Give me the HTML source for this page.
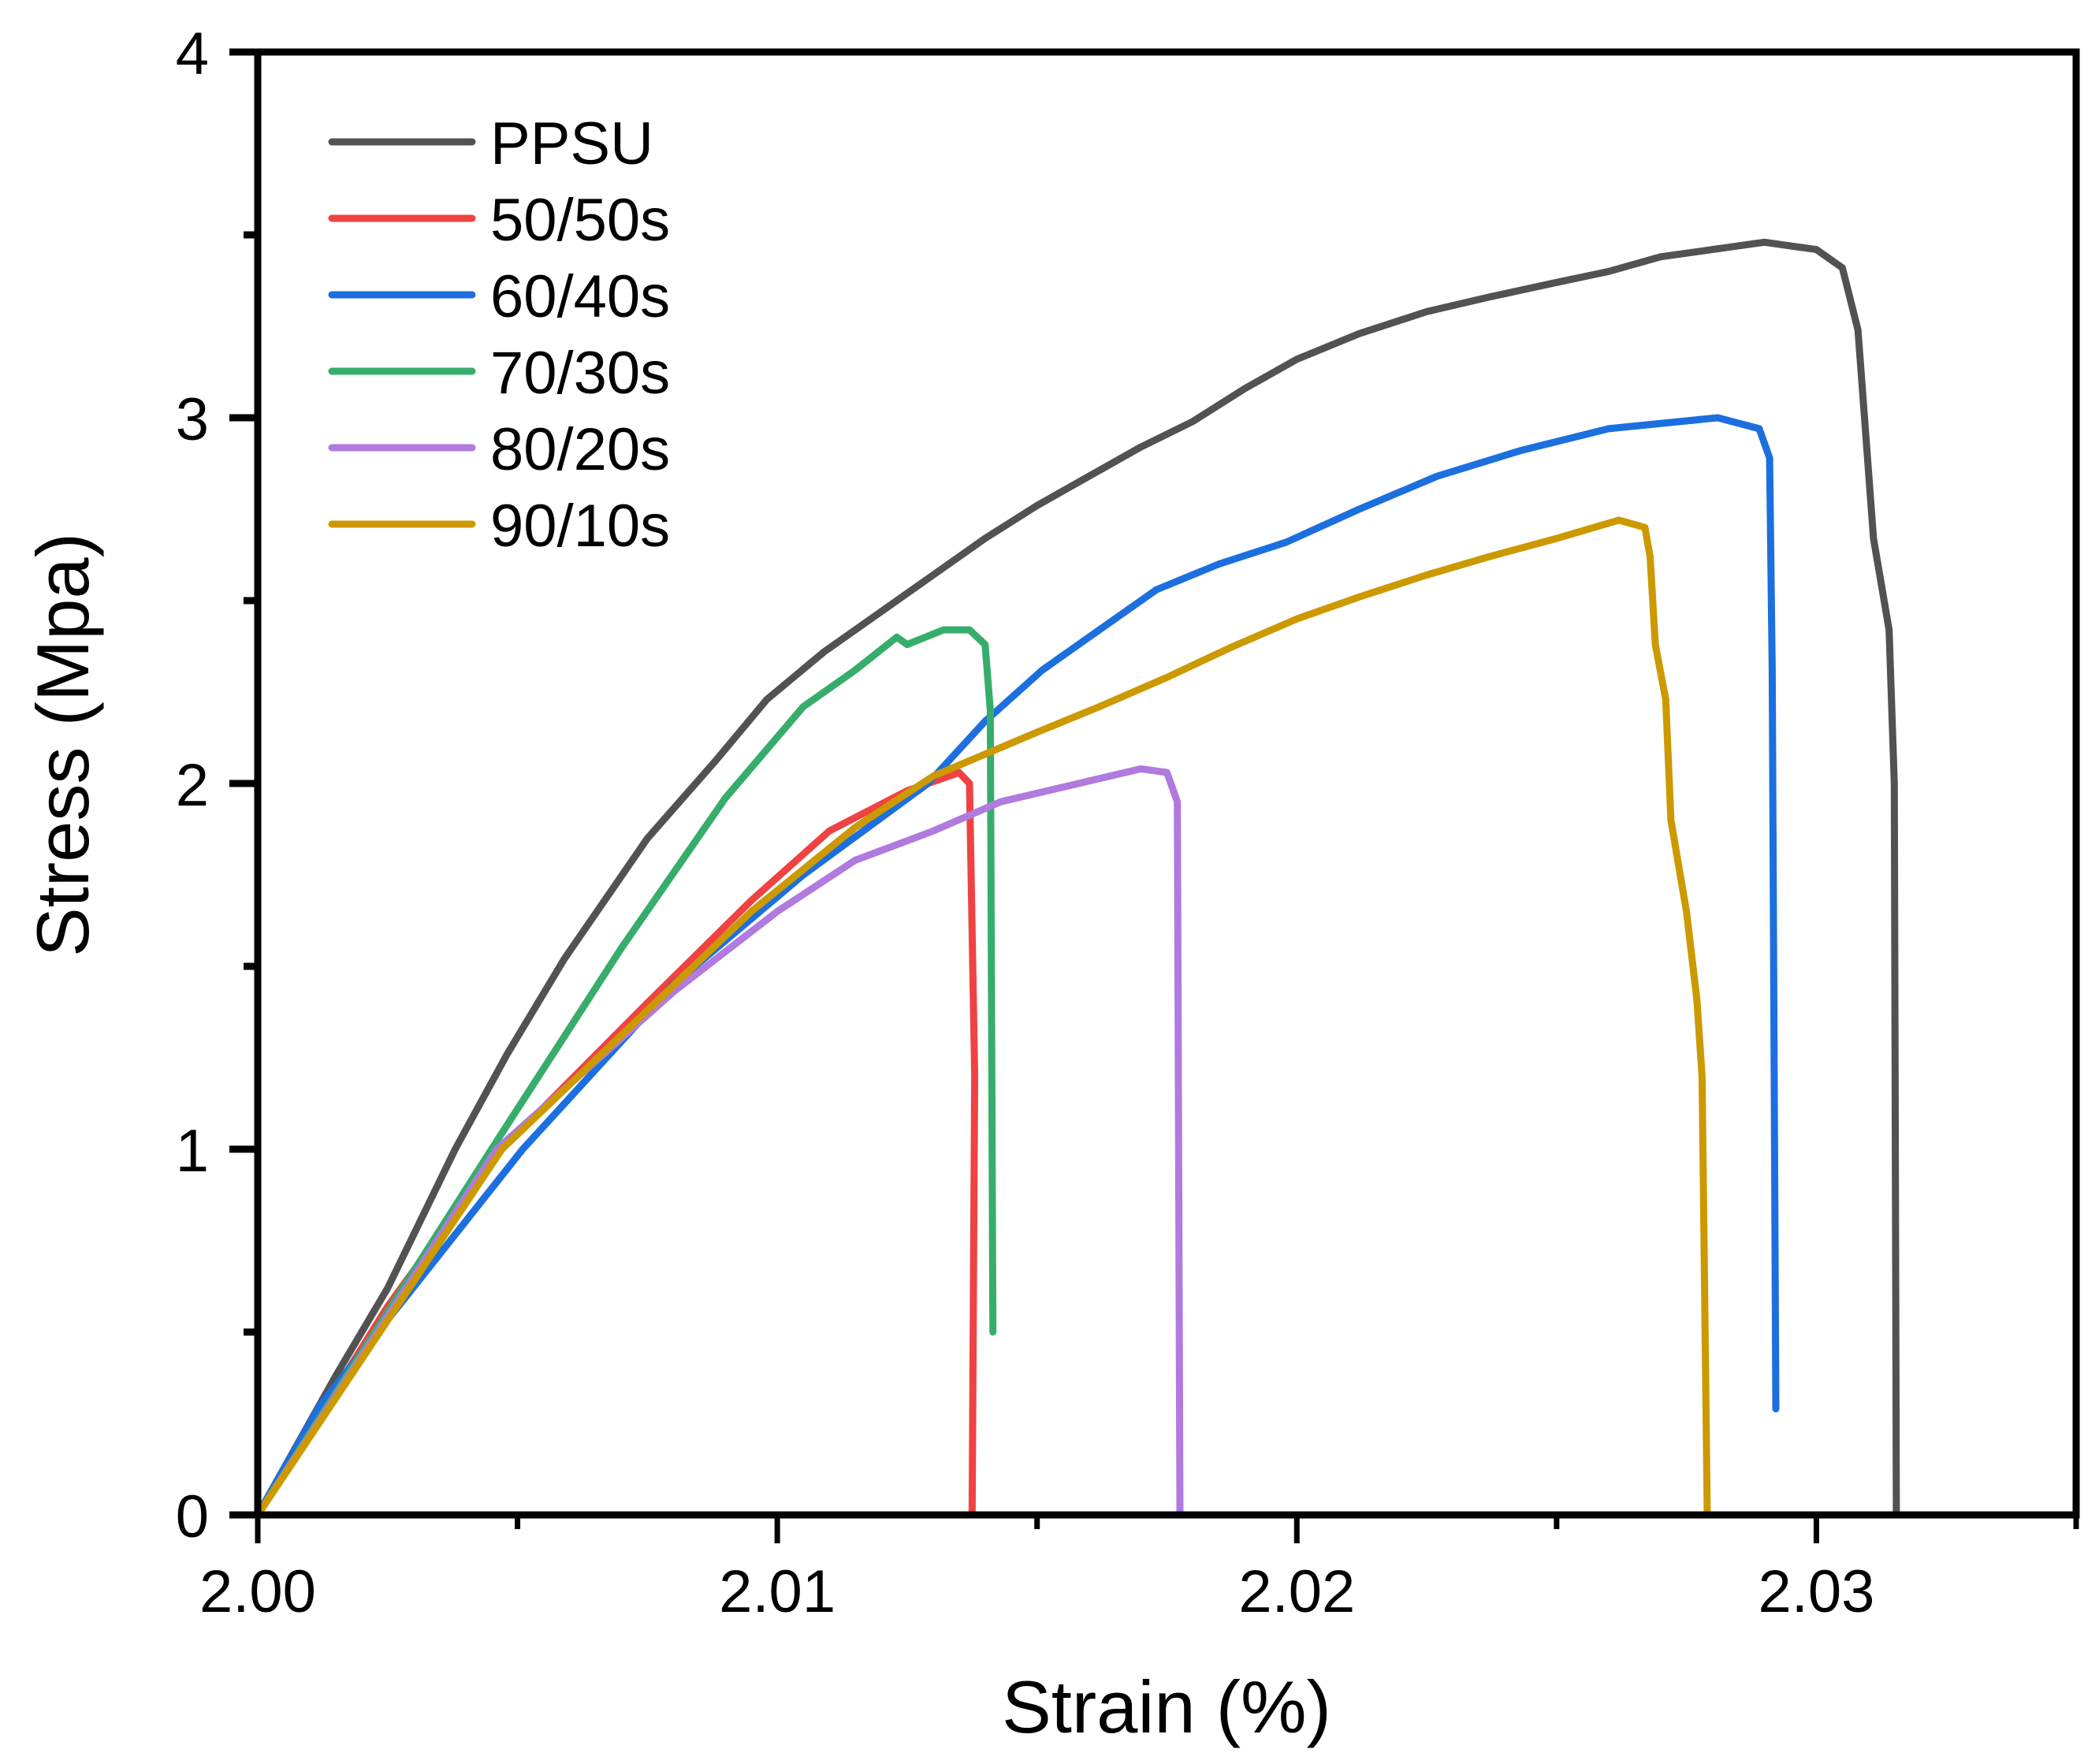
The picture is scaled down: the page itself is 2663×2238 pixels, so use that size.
<!DOCTYPE html>
<html><head><meta charset="utf-8"><style>
html,body{margin:0;padding:0;background:#fff;}
svg{display:block;font-family:"Liberation Sans",Arial,sans-serif;}
</style></head><body>
<svg id="chart" width="2663" height="2238" viewBox="0 0 2663 2238">
<g id="grid"></g>
<g id="series" fill="none" stroke-linejoin="round" stroke-linecap="round"></g>
<g id="axes"></g>
<g id="legend"></g>
<text x="1480" y="2198" font-size="94" text-anchor="middle">Strain (%)</text>
<text transform="translate(112,945) rotate(-90)" font-size="94" text-anchor="middle">Stress (Mpa)</text>
</svg>
<script>
const seriesNames = ["PPSU","50/50s","60/40s","70/30s","80/20s","90/10s"];
const seriesColors = ["#525252","#ef4242","#1c6fdf","#37ad6b","#b07ade","#cc9900"];
const xTicks = [2.00,2.01,2.02,2.03];
const xTickLabels = ["2.00","2.01","2.02","2.03"];
const xMinorTicks = [2.005,2.015,2.025,2.035];
const yTicks = [0,1,2,3,4];
const yTickLabels = ["0","1","2","3","4"];
const yMinorTicks = [0.5,1.5,2.5,3.5];
const ppsuX = [2.000,2.0015,2.0025,2.0038,2.0048,2.0059,2.0075,2.0088,2.0098,2.0109,2.0120,2.0130,2.0140,2.0150,2.0160,2.0170,2.0180,2.0190,2.0200,2.0212,2.0225,2.0237,2.0250,2.0260,2.0270,2.0280,2.0290,2.0300,2.0305,2.0308,2.0311,2.0314,2.0315,2.03154];
const ppsuY = [0,0.38,0.62,1.0,1.26,1.52,1.85,2.06,2.23,2.36,2.47,2.57,2.67,2.76,2.84,2.92,2.99,3.08,3.16,3.23,3.29,3.33,3.37,3.40,3.44,3.46,3.48,3.46,3.41,3.24,2.67,2.42,2.0,0];
const s5050X = [2.000,2.0025,2.0047,2.0075,2.0095,2.0110,2.0125,2.0135,2.0137,2.0138,2.01375];
const s5050Y = [0,0.57,1.0,1.40,1.68,1.87,1.98,2.03,2.0,1.2,0];
const s6040X = [2.000,2.0012,2.0051,2.0080,2.0105,2.0129,2.0140,2.0151,2.0162,2.0173,2.0185,2.0198,2.0212,2.0227,2.0243,2.0260,2.0281,2.0289,2.0291,2.02915,2.02922];
const s6040Y = [0,0.30,1.0,1.45,1.75,2.0,2.17,2.31,2.42,2.53,2.60,2.66,2.75,2.84,2.91,2.97,3.0,2.97,2.89,2.31,0.29];
const s7030X = [2.000,2.0045,2.0070,2.0090,2.0105,2.0115,2.0123,2.0125,2.0132,2.0137,2.0140,2.0141,2.01415];
const s7030Y = [0,1.0,1.55,1.96,2.21,2.31,2.40,2.38,2.42,2.42,2.38,2.2,0.5];
const s8020X = [2.000,2.0046,2.0080,2.0100,2.0115,2.0130,2.0143,2.0155,2.0170,2.0175,2.0177,2.01775];
const s8020Y = [0,1.0,1.43,1.65,1.79,1.87,1.95,1.99,2.04,2.03,1.95,0];
const s9010X = [2.000,2.0047,2.0075,2.0095,2.0115,2.0130,2.0150,2.0162,2.0175,2.0187,2.0200,2.0212,2.0225,2.0237,2.0250,2.0262,2.0267,2.0268,2.0269,2.0271,2.0272,2.0275,2.0277,2.0278,2.0279];
const s9010Y = [0,1.0,1.38,1.65,1.88,2.02,2.14,2.21,2.29,2.37,2.45,2.51,2.57,2.62,2.67,2.72,2.70,2.62,2.38,2.23,1.90,1.65,1.41,1.2,0];

const NS="http://www.w3.org/2000/svg";
const L=327,R=2634,T=66,B=1922;
const xMin=2.0,xMax=2.035,yMin=0,yMax=4;
const sx=v=>L+(v-xMin)/(xMax-xMin)*(R-L);
const sy=v=>B-(v-yMin)/(yMax-yMin)*(B-T);
function mk(tag,attrs,parent){const e=document.createElementNS(NS,tag);for(const k in attrs)e.setAttribute(k,attrs[k]);parent.appendChild(e);return e;}

const sg=document.getElementById('series');
const allX=[ppsuX,s5050X,s6040X,s7030X,s8020X,s9010X];
const allY=[ppsuY,s5050Y,s6040Y,s7030Y,s8020Y,s9010Y];
allX.forEach((xs,i)=>{
  const d=xs.map((x,j)=>(j?'L':'M')+sx(x).toFixed(1)+' '+sy(allY[i][j]).toFixed(1)).join(' ');
  const p=mk('path',{d:d,stroke:seriesColors[i],'stroke-width':9},sg);
  
  
});

const ag=document.getElementById('axes');
const frame=mk('rect',{x:L,y:T,width:R-L,height:B-T,fill:'none',stroke:'#000','stroke-width':9},ag);


xTicks.forEach((v,i)=>{
  const t=mk('line',{x1:sx(v),x2:sx(v),y1:B,y2:B+36,stroke:'#000','stroke-width':7},ag);
  
  
  const lb=mk('text',{x:sx(v),y:B+123,'font-size':76,'text-anchor':'middle'},ag);
  lb.textContent=xTickLabels[i];
  
  
});
xMinorTicks.forEach(v=>{
  const t=mk('line',{x1:sx(v),x2:sx(v),y1:B,y2:B+18,stroke:'#000','stroke-width':7},ag);
  
  
});
yTicks.forEach((v,i)=>{
  const t=mk('line',{x1:L-36,x2:L,y1:sy(v),y2:sy(v),stroke:'#000','stroke-width':9},ag);
  
  
  const lb=mk('text',{x:L-62,y:sy(v)+28,'font-size':76,'text-anchor':'end'},ag);
  lb.textContent=yTickLabels[i];
  
  
});
yMinorTicks.forEach(v=>{
  const t=mk('line',{x1:L-18,x2:L,y1:sy(v),y2:sy(v),stroke:'#000','stroke-width':9},ag);
  
  
});

const lg=document.getElementById('legend');
seriesNames.forEach((n,i)=>{
  const y=180+i*97;
  const g=mk('g',{},lg);
  
  
  mk('line',{x1:421,x2:599,y1:y,y2:y,stroke:seriesColors[i],'stroke-width':9,'stroke-linecap':'round'},g);
  const t=mk('text',{x:622,y:y+28,'font-size':76},g);
  t.textContent=n;
});
</script>
</body></html>
